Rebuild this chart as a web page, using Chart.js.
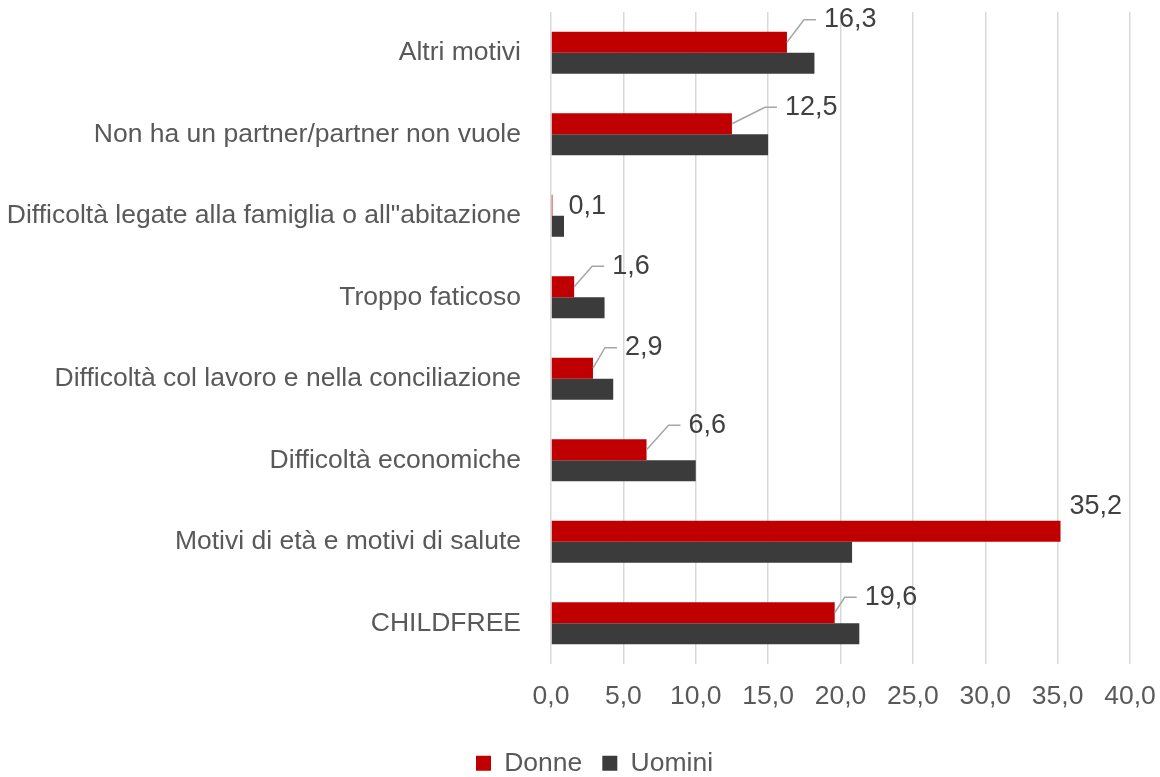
<!DOCTYPE html>
<html><head><meta charset="utf-8">
<script src="https://cdn.jsdelivr.net/npm/chart.js@4.4.1/dist/chart.umd.min.js"></script>
<style>html,body{margin:0;padding:0;background:#fff}#wrap{width:1160px;height:777px;position:relative}</style>
</head><body><div id="wrap"><canvas id="c"></canvas></div>
<script>
const categories = ["Altri motivi", "Non ha un partner/partner non vuole", "Difficoltà legate alla famiglia o all\"abitazione", "Troppo faticoso", "Difficoltà col lavoro e nella conciliazione", "Difficoltà economiche", "Motivi di età e motivi di salute", "CHILDFREE"];
const seriesNames = ["Donne", "Uomini"];
const donne = [16.3, 12.5, 0.1, 1.6, 2.9, 6.6, 35.2, 19.6];
const uomini = [18.2, 15.0, 0.9, 3.7, 4.3, 10.0, 20.8, 21.3];
const xMin = 0, xMax = 40, xStep = 5;

const FONT = "'Liberation Sans Narrow', 'Arial Narrow', 'Liberation Sans', Arial, sans-serif";
const fmt = v => v.toFixed(1).replace('.', ',');

const labelPlugin = {
  id: 'donneLabels',
  afterLayout(chart) {
    // let the long category labels use the space left of the layout padding
    chart.scales.y.left = 0;
  },
  afterDatasetsDraw(chart, args, opts) {
    const meta = chart.getDatasetMeta(0);
    const ctx = chart.ctx;
    const vals = chart.data.datasets[0].data;
    ctx.save();
    ctx.font = '27px ' + FONT;
    ctx.fillStyle = '#404040';
    ctx.textAlign = 'left';
    ctx.textBaseline = 'middle';
    ctx.strokeStyle = '#a6a6a6';
    ctx.lineWidth = 1.5;
    meta.data.forEach((bar, i) => {
      const [dx, dy] = opts.nudge[i];
      const top = bar.y - bar.height / 2;
      const lx = bar.x + dx, ly = top + dy;
      if (dx > 20) {
        ctx.beginPath();
        ctx.moveTo(bar.x, bar.y);
        ctx.lineTo(lx - 20, ly);
        ctx.lineTo(lx - 8, ly);
        ctx.stroke();
      }
      ctx.fillText(fmt(vals[i]), lx, ly);
    });
    ctx.restore();
  }
};

new Chart(document.getElementById('c'), {
  type: 'bar',
  data: {
    labels: categories,
    datasets: [
      { label: seriesNames[0], data: donne, backgroundColor: '#C00000', borderWidth: 0 },
      { label: seriesNames[1], data: uomini, backgroundColor: '#3B3B3B', borderWidth: 0 }
    ]
  },
  options: {
    indexAxis: 'y',
    responsive: true,
    maintainAspectRatio: false,
    animation: false,
    categoryPercentage: 0.516,
    barPercentage: 1.0,
    layout: { padding: { left: 29, right: 0, top: 12, bottom: 0 } },
    scales: {
      x: {
        min: xMin, max: xMax,
        ticks: { stepSize: xStep, callback: v => fmt(v), color: '#595959', font: { size: 26.5, family: FONT }, padding: 17, maxRotation: 0 },
        grid: { color: '#d9d9d9', lineWidth: 1.5, drawTicks: false },
        border: { display: false },
        afterFit: s => { s.height = 66; s.paddingRight = 30; }
      },
      y: {
        ticks: { color: '#595959', font: { size: 26.5, family: FONT }, padding: 30 },
        grid: { display: false, drawTicks: false },
        border: { display: false },
        afterFit: s => { s.width = 522; s.paddingTop = 0; s.paddingBottom = 0; }
      }
    },
    plugins: {
      legend: {
        position: 'bottom',
        maxHeight: 47,
        labels: { boxWidth: 15, boxHeight: 15, padding: 20, color: '#595959', font: { size: 26.5, family: FONT } }
      },
      tooltip: { enabled: false },
      donneLabels: { nudge: [[37, -12], [53, -6], [16, 12], [38, -10], [32, -10], [42, -14], [9, -14], [30, -5]] }
    }
  },
  plugins: [labelPlugin]
});
</script>
</body></html>
